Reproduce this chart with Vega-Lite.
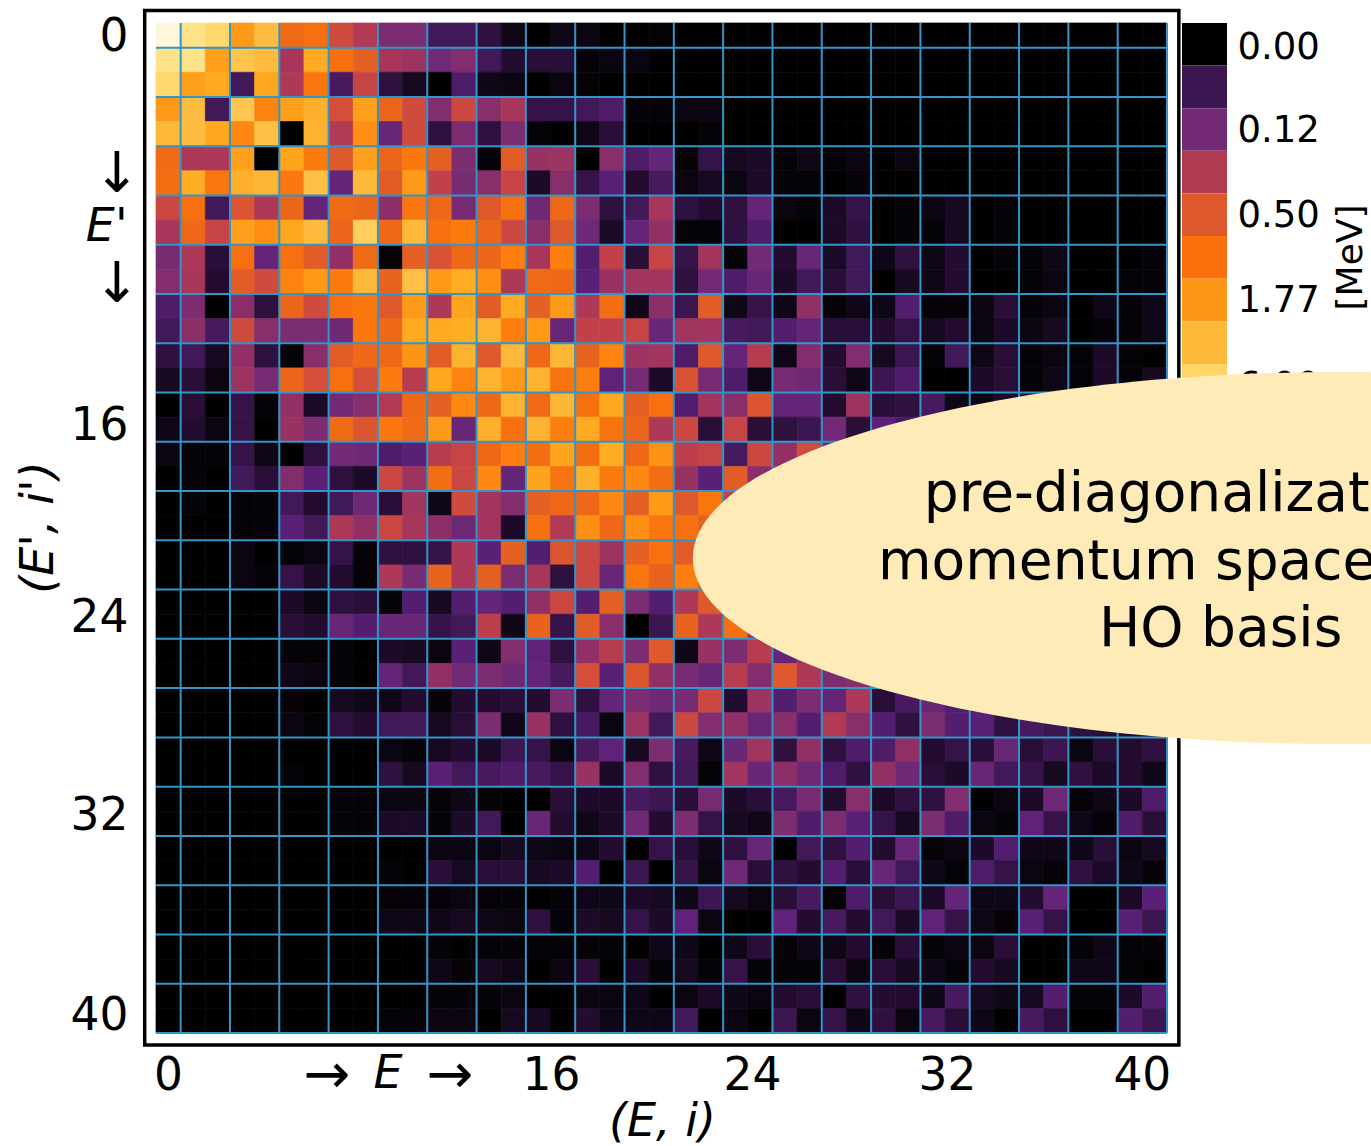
{"$schema":"https://vega.github.io/schema/vega-lite/v6.json","autosize":"none","width":1011,"height":1010,"padding":{"left":156,"top":23,"right":204,"bottom":113},"background":"white","config":{"view":{"stroke":null},"font":"DejaVu Sans"},"resolve":{"scale":{"x":"independent","y":"independent","color":"independent","stroke":"independent"},"axis":{"x":"independent","y":"independent"}},"layer":[{"data":{"values":[{"box":"frame"}]},"mark":{"type":"rect","fillOpacity":0,"stroke":"black","strokeWidth":3.5},"encoding":{"x":{"datum":-0.458,"type":"quantitative","scale":{"domain":[0,41],"nice":false,"zero":false},"axis":null},"x2":{"datum":41.48},"y":{"datum":-0.507,"type":"quantitative","scale":{"domain":[0,41],"reverse":true,"nice":false,"zero":false},"axis":null},"y2":{"datum":41.49}}},{"data":{"values":[
{"i":0,"j":0,"v":100},{"i":1,"j":0,"v":90},{"i":2,"j":0,"v":82},{"i":3,"j":0,"v":60},{"i":4,"j":0,"v":72},{"i":5,"j":0,"v":48},{"i":6,"j":0,"v":50},{"i":7,"j":0,"v":38},{"i":8,"j":0,"v":32},{"i":9,"j":0,"v":22},{"i":10,"j":0,"v":22},{"i":11,"j":0,"v":11},{"i":12,"j":0,"v":11},{"i":13,"j":0,"v":8},{"i":14,"j":0,"v":3},{"i":15,"j":0,"v":0},{"i":16,"j":0,"v":3},{"i":17,"j":0,"v":2},{"i":18,"j":0,"v":0},{"i":19,"j":0,"v":0},{"i":20,"j":0,"v":1},{"i":21,"j":0,"v":0},{"i":22,"j":0,"v":0},{"i":23,"j":0,"v":0},{"i":24,"j":0,"v":0},{"i":25,"j":0,"v":0},{"i":26,"j":0,"v":0},{"i":27,"j":0,"v":0},{"i":28,"j":0,"v":0},{"i":29,"j":0,"v":0},{"i":30,"j":0,"v":0},{"i":31,"j":0,"v":0},{"i":32,"j":0,"v":0},{"i":33,"j":0,"v":0},{"i":34,"j":0,"v":0},{"i":35,"j":0,"v":0},{"i":36,"j":0,"v":0},{"i":37,"j":0,"v":0},{"i":38,"j":0,"v":0},{"i":39,"j":0,"v":0},{"i":40,"j":0,"v":0},
{"i":0,"j":1,"v":90},{"i":1,"j":1,"v":90},{"i":2,"j":1,"v":62},{"i":3,"j":1,"v":75},{"i":4,"j":1,"v":71},{"i":5,"j":1,"v":30},{"i":6,"j":1,"v":65},{"i":7,"j":1,"v":50},{"i":8,"j":1,"v":44},{"i":9,"j":1,"v":30},{"i":10,"j":1,"v":28},{"i":11,"j":1,"v":20},{"i":12,"j":1,"v":23},{"i":13,"j":1,"v":11},{"i":14,"j":1,"v":6},{"i":15,"j":1,"v":7},{"i":16,"j":1,"v":7},{"i":17,"j":1,"v":1},{"i":18,"j":1,"v":2},{"i":19,"j":1,"v":2},{"i":20,"j":1,"v":0},{"i":21,"j":1,"v":0},{"i":22,"j":1,"v":0},{"i":23,"j":1,"v":0},{"i":24,"j":1,"v":0},{"i":25,"j":1,"v":0},{"i":26,"j":1,"v":0},{"i":27,"j":1,"v":0},{"i":28,"j":1,"v":0},{"i":29,"j":1,"v":0},{"i":30,"j":1,"v":0},{"i":31,"j":1,"v":0},{"i":32,"j":1,"v":0},{"i":33,"j":1,"v":0},{"i":34,"j":1,"v":0},{"i":35,"j":1,"v":0},{"i":36,"j":1,"v":0},{"i":37,"j":1,"v":0},{"i":38,"j":1,"v":0},{"i":39,"j":1,"v":0},{"i":40,"j":1,"v":0},
{"i":0,"j":2,"v":82},{"i":1,"j":2,"v":62},{"i":2,"j":2,"v":65},{"i":3,"j":2,"v":11},{"i":4,"j":2,"v":64},{"i":5,"j":2,"v":31},{"i":6,"j":2,"v":52},{"i":7,"j":2,"v":12},{"i":8,"j":2,"v":36},{"i":9,"j":2,"v":8},{"i":10,"j":2,"v":4},{"i":11,"j":2,"v":0},{"i":12,"j":2,"v":13},{"i":13,"j":2,"v":3},{"i":14,"j":2,"v":2},{"i":15,"j":2,"v":0},{"i":16,"j":2,"v":2},{"i":17,"j":2,"v":1},{"i":18,"j":2,"v":0},{"i":19,"j":2,"v":0},{"i":20,"j":2,"v":0},{"i":21,"j":2,"v":0},{"i":22,"j":2,"v":0},{"i":23,"j":2,"v":0},{"i":24,"j":2,"v":0},{"i":25,"j":2,"v":0},{"i":26,"j":2,"v":0},{"i":27,"j":2,"v":0},{"i":28,"j":2,"v":0},{"i":29,"j":2,"v":0},{"i":30,"j":2,"v":0},{"i":31,"j":2,"v":0},{"i":32,"j":2,"v":0},{"i":33,"j":2,"v":0},{"i":34,"j":2,"v":0},{"i":35,"j":2,"v":0},{"i":36,"j":2,"v":0},{"i":37,"j":2,"v":0},{"i":38,"j":2,"v":0},{"i":39,"j":2,"v":0},{"i":40,"j":2,"v":0},
{"i":0,"j":3,"v":60},{"i":1,"j":3,"v":72},{"i":2,"j":3,"v":11},{"i":3,"j":3,"v":76},{"i":4,"j":3,"v":56},{"i":5,"j":3,"v":62},{"i":6,"j":3,"v":67},{"i":7,"j":3,"v":39},{"i":8,"j":3,"v":62},{"i":9,"j":3,"v":46},{"i":10,"j":3,"v":38},{"i":11,"j":3,"v":23},{"i":12,"j":3,"v":37},{"i":13,"j":3,"v":24},{"i":14,"j":3,"v":30},{"i":15,"j":3,"v":9},{"i":16,"j":3,"v":9},{"i":17,"j":3,"v":11},{"i":18,"j":3,"v":13},{"i":19,"j":3,"v":1},{"i":20,"j":3,"v":1},{"i":21,"j":3,"v":2},{"i":22,"j":3,"v":2},{"i":23,"j":3,"v":0},{"i":24,"j":3,"v":0},{"i":25,"j":3,"v":0},{"i":26,"j":3,"v":0},{"i":27,"j":3,"v":0},{"i":28,"j":3,"v":0},{"i":29,"j":3,"v":0},{"i":30,"j":3,"v":0},{"i":31,"j":3,"v":0},{"i":32,"j":3,"v":0},{"i":33,"j":3,"v":0},{"i":34,"j":3,"v":0},{"i":35,"j":3,"v":0},{"i":36,"j":3,"v":0},{"i":37,"j":3,"v":0},{"i":38,"j":3,"v":0},{"i":39,"j":3,"v":0},{"i":40,"j":3,"v":0},
{"i":0,"j":4,"v":70},{"i":1,"j":4,"v":72},{"i":2,"j":4,"v":64},{"i":3,"j":4,"v":57},{"i":4,"j":4,"v":73},{"i":5,"j":4,"v":0},{"i":6,"j":4,"v":68},{"i":7,"j":4,"v":32},{"i":8,"j":4,"v":58},{"i":9,"j":4,"v":18},{"i":10,"j":4,"v":38},{"i":11,"j":4,"v":8},{"i":12,"j":4,"v":22},{"i":13,"j":4,"v":8},{"i":14,"j":4,"v":22},{"i":15,"j":4,"v":1},{"i":16,"j":4,"v":0},{"i":17,"j":4,"v":3},{"i":18,"j":4,"v":7},{"i":19,"j":4,"v":0},{"i":20,"j":4,"v":0},{"i":21,"j":4,"v":0},{"i":22,"j":4,"v":1},{"i":23,"j":4,"v":0},{"i":24,"j":4,"v":0},{"i":25,"j":4,"v":0},{"i":26,"j":4,"v":0},{"i":27,"j":4,"v":0},{"i":28,"j":4,"v":0},{"i":29,"j":4,"v":0},{"i":30,"j":4,"v":0},{"i":31,"j":4,"v":0},{"i":32,"j":4,"v":0},{"i":33,"j":4,"v":0},{"i":34,"j":4,"v":0},{"i":35,"j":4,"v":0},{"i":36,"j":4,"v":0},{"i":37,"j":4,"v":0},{"i":38,"j":4,"v":0},{"i":39,"j":4,"v":0},{"i":40,"j":4,"v":0},
{"i":0,"j":5,"v":48},{"i":1,"j":5,"v":31},{"i":2,"j":5,"v":31},{"i":3,"j":5,"v":62},{"i":4,"j":5,"v":0},{"i":5,"j":5,"v":63},{"i":6,"j":5,"v":54},{"i":7,"j":5,"v":42},{"i":8,"j":5,"v":62},{"i":9,"j":5,"v":46},{"i":10,"j":5,"v":53},{"i":11,"j":5,"v":44},{"i":12,"j":5,"v":22},{"i":13,"j":5,"v":1},{"i":14,"j":5,"v":43},{"i":15,"j":5,"v":27},{"i":16,"j":5,"v":28},{"i":17,"j":5,"v":0},{"i":18,"j":5,"v":24},{"i":19,"j":5,"v":13},{"i":20,"j":5,"v":17},{"i":21,"j":5,"v":1},{"i":22,"j":5,"v":9},{"i":23,"j":5,"v":4},{"i":24,"j":5,"v":5},{"i":25,"j":5,"v":1},{"i":26,"j":5,"v":3},{"i":27,"j":5,"v":1},{"i":28,"j":5,"v":2},{"i":29,"j":5,"v":0},{"i":30,"j":5,"v":2},{"i":31,"j":5,"v":0},{"i":32,"j":5,"v":0},{"i":33,"j":5,"v":0},{"i":34,"j":5,"v":0},{"i":35,"j":5,"v":0},{"i":36,"j":5,"v":0},{"i":37,"j":5,"v":0},{"i":38,"j":5,"v":0},{"i":39,"j":5,"v":0},{"i":40,"j":5,"v":0},
{"i":0,"j":6,"v":49},{"i":1,"j":6,"v":66},{"i":2,"j":6,"v":52},{"i":3,"j":6,"v":67},{"i":4,"j":6,"v":69},{"i":5,"j":6,"v":53},{"i":6,"j":6,"v":73},{"i":7,"j":6,"v":17},{"i":8,"j":6,"v":70},{"i":9,"j":6,"v":43},{"i":10,"j":6,"v":60},{"i":11,"j":6,"v":35},{"i":12,"j":6,"v":21},{"i":13,"j":6,"v":24},{"i":14,"j":6,"v":36},{"i":15,"j":6,"v":5},{"i":16,"j":6,"v":24},{"i":17,"j":6,"v":9},{"i":18,"j":6,"v":15},{"i":19,"j":6,"v":6},{"i":20,"j":6,"v":12},{"i":21,"j":6,"v":2},{"i":22,"j":6,"v":4},{"i":23,"j":6,"v":2},{"i":24,"j":6,"v":5},{"i":25,"j":6,"v":1},{"i":26,"j":6,"v":1},{"i":27,"j":6,"v":0},{"i":28,"j":6,"v":1},{"i":29,"j":6,"v":0},{"i":30,"j":6,"v":0},{"i":31,"j":6,"v":0},{"i":32,"j":6,"v":0},{"i":33,"j":6,"v":0},{"i":34,"j":6,"v":0},{"i":35,"j":6,"v":0},{"i":36,"j":6,"v":0},{"i":37,"j":6,"v":0},{"i":38,"j":6,"v":0},{"i":39,"j":6,"v":0},{"i":40,"j":6,"v":0},
{"i":0,"j":7,"v":37},{"i":1,"j":7,"v":50},{"i":2,"j":7,"v":11},{"i":3,"j":7,"v":41},{"i":4,"j":7,"v":31},{"i":5,"j":7,"v":46},{"i":6,"j":7,"v":17},{"i":7,"j":7,"v":48},{"i":8,"j":7,"v":46},{"i":9,"j":7,"v":25},{"i":10,"j":7,"v":52},{"i":11,"j":7,"v":47},{"i":12,"j":7,"v":21},{"i":13,"j":7,"v":42},{"i":14,"j":7,"v":50},{"i":15,"j":7,"v":19},{"i":16,"j":7,"v":47},{"i":17,"j":7,"v":22},{"i":18,"j":7,"v":8},{"i":19,"j":7,"v":11},{"i":20,"j":7,"v":30},{"i":21,"j":7,"v":8},{"i":22,"j":7,"v":6},{"i":23,"j":7,"v":8},{"i":24,"j":7,"v":17},{"i":25,"j":7,"v":2},{"i":26,"j":7,"v":1},{"i":27,"j":7,"v":5},{"i":28,"j":7,"v":9},{"i":29,"j":7,"v":0},{"i":30,"j":7,"v":1},{"i":31,"j":7,"v":2},{"i":32,"j":7,"v":4},{"i":33,"j":7,"v":0},{"i":34,"j":7,"v":1},{"i":35,"j":7,"v":0},{"i":36,"j":7,"v":0},{"i":37,"j":7,"v":0},{"i":38,"j":7,"v":0},{"i":39,"j":7,"v":0},{"i":40,"j":7,"v":0},
{"i":0,"j":8,"v":30},{"i":1,"j":8,"v":47},{"i":2,"j":8,"v":36},{"i":3,"j":8,"v":62},{"i":4,"j":8,"v":58},{"i":5,"j":8,"v":64},{"i":6,"j":8,"v":71},{"i":7,"j":8,"v":46},{"i":8,"j":8,"v":78},{"i":9,"j":8,"v":47},{"i":10,"j":8,"v":70},{"i":11,"j":8,"v":50},{"i":12,"j":8,"v":54},{"i":13,"j":8,"v":46},{"i":14,"j":8,"v":37},{"i":15,"j":8,"v":24},{"i":16,"j":8,"v":42},{"i":17,"j":8,"v":19},{"i":18,"j":8,"v":5},{"i":19,"j":8,"v":17},{"i":20,"j":8,"v":26},{"i":21,"j":8,"v":1},{"i":22,"j":8,"v":1},{"i":23,"j":8,"v":8},{"i":24,"j":8,"v":13},{"i":25,"j":8,"v":0},{"i":26,"j":8,"v":0},{"i":27,"j":8,"v":5},{"i":28,"j":8,"v":8},{"i":29,"j":8,"v":0},{"i":30,"j":8,"v":1},{"i":31,"j":8,"v":1},{"i":32,"j":8,"v":4},{"i":33,"j":8,"v":0},{"i":34,"j":8,"v":1},{"i":35,"j":8,"v":0},{"i":36,"j":8,"v":0},{"i":37,"j":8,"v":0},{"i":38,"j":8,"v":0},{"i":39,"j":8,"v":0},{"i":40,"j":8,"v":0},
{"i":0,"j":9,"v":21},{"i":1,"j":9,"v":31},{"i":2,"j":9,"v":7},{"i":3,"j":9,"v":50},{"i":4,"j":9,"v":17},{"i":5,"j":9,"v":50},{"i":6,"j":9,"v":43},{"i":7,"j":9,"v":26},{"i":8,"j":9,"v":48},{"i":9,"j":9,"v":1},{"i":10,"j":9,"v":44},{"i":11,"j":9,"v":40},{"i":12,"j":9,"v":47},{"i":13,"j":9,"v":46},{"i":14,"j":9,"v":55},{"i":15,"j":9,"v":30},{"i":16,"j":9,"v":55},{"i":17,"j":9,"v":14},{"i":18,"j":9,"v":35},{"i":19,"j":9,"v":7},{"i":20,"j":9,"v":36},{"i":21,"j":9,"v":9},{"i":22,"j":9,"v":29},{"i":23,"j":9,"v":1},{"i":24,"j":9,"v":20},{"i":25,"j":9,"v":6},{"i":26,"j":9,"v":18},{"i":27,"j":9,"v":5},{"i":28,"j":9,"v":11},{"i":29,"j":9,"v":3},{"i":30,"j":9,"v":8},{"i":31,"j":9,"v":3},{"i":32,"j":9,"v":6},{"i":33,"j":9,"v":0},{"i":34,"j":9,"v":1},{"i":35,"j":9,"v":1},{"i":36,"j":9,"v":3},{"i":37,"j":9,"v":0},{"i":38,"j":9,"v":0},{"i":39,"j":9,"v":0},{"i":40,"j":9,"v":1},
{"i":0,"j":10,"v":23},{"i":1,"j":10,"v":30},{"i":2,"j":10,"v":6},{"i":3,"j":10,"v":43},{"i":4,"j":10,"v":38},{"i":5,"j":10,"v":56},{"i":6,"j":10,"v":60},{"i":7,"j":10,"v":54},{"i":8,"j":10,"v":70},{"i":9,"j":10,"v":45},{"i":10,"j":10,"v":73},{"i":11,"j":10,"v":60},{"i":12,"j":10,"v":66},{"i":13,"j":10,"v":58},{"i":14,"j":10,"v":31},{"i":15,"j":10,"v":48},{"i":16,"j":10,"v":47},{"i":17,"j":10,"v":15},{"i":18,"j":10,"v":27},{"i":19,"j":10,"v":29},{"i":20,"j":10,"v":29},{"i":21,"j":10,"v":8},{"i":22,"j":10,"v":20},{"i":23,"j":10,"v":13},{"i":24,"j":10,"v":18},{"i":25,"j":10,"v":5},{"i":26,"j":10,"v":11},{"i":27,"j":10,"v":7},{"i":28,"j":10,"v":11},{"i":29,"j":10,"v":0},{"i":30,"j":10,"v":4},{"i":31,"j":10,"v":3},{"i":32,"j":10,"v":6},{"i":33,"j":10,"v":0},{"i":34,"j":10,"v":0},{"i":35,"j":10,"v":1},{"i":36,"j":10,"v":2},{"i":37,"j":10,"v":0},{"i":38,"j":10,"v":0},{"i":39,"j":10,"v":1},{"i":40,"j":10,"v":1},
{"i":0,"j":11,"v":13},{"i":1,"j":11,"v":22},{"i":2,"j":11,"v":0},{"i":3,"j":11,"v":25},{"i":4,"j":11,"v":8},{"i":5,"j":11,"v":46},{"i":6,"j":11,"v":38},{"i":7,"j":11,"v":50},{"i":8,"j":11,"v":53},{"i":9,"j":11,"v":42},{"i":10,"j":11,"v":60},{"i":11,"j":11,"v":31},{"i":12,"j":11,"v":63},{"i":13,"j":11,"v":43},{"i":14,"j":11,"v":65},{"i":15,"j":11,"v":44},{"i":16,"j":11,"v":60},{"i":17,"j":11,"v":31},{"i":18,"j":11,"v":49},{"i":19,"j":11,"v":3},{"i":20,"j":11,"v":25},{"i":21,"j":11,"v":10},{"i":22,"j":11,"v":43},{"i":23,"j":11,"v":3},{"i":24,"j":11,"v":9},{"i":25,"j":11,"v":3},{"i":26,"j":11,"v":26},{"i":27,"j":11,"v":1},{"i":28,"j":11,"v":3},{"i":29,"j":11,"v":3},{"i":30,"j":11,"v":14},{"i":31,"j":11,"v":1},{"i":32,"j":11,"v":1},{"i":33,"j":11,"v":2},{"i":34,"j":11,"v":7},{"i":35,"j":11,"v":1},{"i":36,"j":11,"v":2},{"i":37,"j":11,"v":0},{"i":38,"j":11,"v":3},{"i":39,"j":11,"v":1},{"i":40,"j":11,"v":3},
{"i":0,"j":12,"v":11},{"i":1,"j":12,"v":25},{"i":2,"j":12,"v":12},{"i":3,"j":12,"v":38},{"i":4,"j":12,"v":24},{"i":5,"j":12,"v":22},{"i":6,"j":12,"v":22},{"i":7,"j":12,"v":19},{"i":8,"j":12,"v":52},{"i":9,"j":12,"v":47},{"i":10,"j":12,"v":65},{"i":11,"j":12,"v":65},{"i":12,"j":12,"v":66},{"i":13,"j":12,"v":68},{"i":14,"j":12,"v":55},{"i":15,"j":12,"v":60},{"i":16,"j":12,"v":18},{"i":17,"j":12,"v":35},{"i":18,"j":12,"v":35},{"i":19,"j":12,"v":36},{"i":20,"j":12,"v":18},{"i":21,"j":12,"v":29},{"i":22,"j":12,"v":29},{"i":23,"j":12,"v":12},{"i":24,"j":12,"v":11},{"i":25,"j":12,"v":14},{"i":26,"j":12,"v":17},{"i":27,"j":12,"v":7},{"i":28,"j":12,"v":7},{"i":29,"j":12,"v":6},{"i":30,"j":12,"v":9},{"i":31,"j":12,"v":4},{"i":32,"j":12,"v":6},{"i":33,"j":12,"v":2},{"i":34,"j":12,"v":5},{"i":35,"j":12,"v":2},{"i":36,"j":12,"v":4},{"i":37,"j":12,"v":0},{"i":38,"j":12,"v":1},{"i":39,"j":12,"v":1},{"i":40,"j":12,"v":3},
{"i":0,"j":13,"v":8},{"i":1,"j":13,"v":11},{"i":2,"j":13,"v":4},{"i":3,"j":13,"v":26},{"i":4,"j":13,"v":8},{"i":5,"j":13,"v":1},{"i":6,"j":13,"v":24},{"i":7,"j":13,"v":43},{"i":8,"j":13,"v":47},{"i":9,"j":13,"v":47},{"i":10,"j":13,"v":59},{"i":11,"j":13,"v":43},{"i":12,"j":13,"v":68},{"i":13,"j":13,"v":42},{"i":14,"j":13,"v":70},{"i":15,"j":13,"v":47},{"i":16,"j":13,"v":69},{"i":17,"j":13,"v":45},{"i":18,"j":13,"v":56},{"i":19,"j":13,"v":28},{"i":20,"j":13,"v":29},{"i":21,"j":13,"v":13},{"i":22,"j":13,"v":42},{"i":23,"j":13,"v":17},{"i":24,"j":13,"v":33},{"i":25,"j":13,"v":3},{"i":26,"j":13,"v":23},{"i":27,"j":13,"v":6},{"i":28,"j":13,"v":23},{"i":29,"j":13,"v":4},{"i":30,"j":13,"v":10},{"i":31,"j":13,"v":1},{"i":32,"j":13,"v":11},{"i":33,"j":13,"v":3},{"i":34,"j":13,"v":7},{"i":35,"j":13,"v":1},{"i":36,"j":13,"v":2},{"i":37,"j":13,"v":1},{"i":38,"j":13,"v":5},{"i":39,"j":13,"v":1},{"i":40,"j":13,"v":0},
{"i":0,"j":14,"v":4},{"i":1,"j":14,"v":7},{"i":2,"j":14,"v":2},{"i":3,"j":14,"v":28},{"i":4,"j":14,"v":21},{"i":5,"j":14,"v":46},{"i":6,"j":14,"v":39},{"i":7,"j":14,"v":50},{"i":8,"j":14,"v":39},{"i":9,"j":14,"v":54},{"i":10,"j":14,"v":33},{"i":11,"j":14,"v":64},{"i":12,"j":14,"v":56},{"i":13,"j":14,"v":68},{"i":14,"j":14,"v":60},{"i":15,"j":14,"v":68},{"i":16,"j":14,"v":51},{"i":17,"j":14,"v":55},{"i":18,"j":14,"v":16},{"i":19,"j":14,"v":21},{"i":20,"j":14,"v":5},{"i":21,"j":14,"v":40},{"i":22,"j":14,"v":21},{"i":23,"j":14,"v":13},{"i":24,"j":14,"v":3},{"i":25,"j":14,"v":21},{"i":26,"j":14,"v":19},{"i":27,"j":14,"v":7},{"i":28,"j":14,"v":3},{"i":29,"j":14,"v":10},{"i":30,"j":14,"v":13},{"i":31,"j":14,"v":0},{"i":32,"j":14,"v":0},{"i":33,"j":14,"v":5},{"i":34,"j":14,"v":7},{"i":35,"j":14,"v":1},{"i":36,"j":14,"v":3},{"i":37,"j":14,"v":1},{"i":38,"j":14,"v":5},{"i":39,"j":14,"v":1},{"i":40,"j":14,"v":4},
{"i":0,"j":15,"v":0},{"i":1,"j":15,"v":7},{"i":2,"j":15,"v":0},{"i":3,"j":15,"v":9},{"i":4,"j":15,"v":1},{"i":5,"j":15,"v":26},{"i":6,"j":15,"v":5},{"i":7,"j":15,"v":20},{"i":8,"j":15,"v":24},{"i":9,"j":15,"v":32},{"i":10,"j":15,"v":47},{"i":11,"j":15,"v":44},{"i":12,"j":15,"v":57},{"i":13,"j":15,"v":47},{"i":14,"j":15,"v":68},{"i":15,"j":15,"v":48},{"i":16,"j":15,"v":69},{"i":17,"j":15,"v":50},{"i":18,"j":15,"v":64},{"i":19,"j":15,"v":44},{"i":20,"j":15,"v":50},{"i":21,"j":15,"v":14},{"i":22,"j":15,"v":29},{"i":23,"j":15,"v":24},{"i":24,"j":15,"v":41},{"i":25,"j":15,"v":17},{"i":26,"j":15,"v":17},{"i":27,"j":15,"v":6},{"i":28,"j":15,"v":28},{"i":29,"j":15,"v":7},{"i":30,"j":15,"v":8},{"i":31,"j":15,"v":12},{"i":32,"j":15,"v":3},{"i":33,"j":15,"v":2},{"i":34,"j":15,"v":5},{"i":35,"j":15,"v":8},{"i":36,"j":15,"v":10},{"i":37,"j":15,"v":12},{"i":38,"j":15,"v":6},{"i":39,"j":15,"v":9},{"i":40,"j":15,"v":7},
{"i":0,"j":16,"v":3},{"i":1,"j":16,"v":6},{"i":2,"j":16,"v":2},{"i":3,"j":16,"v":9},{"i":4,"j":16,"v":0},{"i":5,"j":16,"v":27},{"i":6,"j":16,"v":22},{"i":7,"j":16,"v":48},{"i":8,"j":16,"v":41},{"i":9,"j":16,"v":53},{"i":10,"j":16,"v":48},{"i":11,"j":16,"v":60},{"i":12,"j":16,"v":18},{"i":13,"j":16,"v":67},{"i":14,"j":16,"v":50},{"i":15,"j":16,"v":68},{"i":16,"j":16,"v":55},{"i":17,"j":16,"v":65},{"i":18,"j":16,"v":51},{"i":19,"j":16,"v":46},{"i":20,"j":16,"v":31},{"i":21,"j":16,"v":37},{"i":22,"j":16,"v":7},{"i":23,"j":16,"v":36},{"i":24,"j":16,"v":7},{"i":25,"j":16,"v":8},{"i":26,"j":16,"v":10},{"i":27,"j":16,"v":20},{"i":28,"j":16,"v":7},{"i":29,"j":16,"v":15},{"i":30,"j":16,"v":12},{"i":31,"j":16,"v":18},{"i":32,"j":16,"v":9},{"i":33,"j":16,"v":8},{"i":34,"j":16,"v":11},{"i":35,"j":16,"v":14},{"i":36,"j":16,"v":9},{"i":37,"j":16,"v":7},{"i":38,"j":16,"v":6},{"i":39,"j":16,"v":5},{"i":40,"j":16,"v":8},
{"i":0,"j":17,"v":2},{"i":1,"j":17,"v":1},{"i":2,"j":17,"v":1},{"i":3,"j":17,"v":9},{"i":4,"j":17,"v":3},{"i":5,"j":17,"v":0},{"i":6,"j":17,"v":8},{"i":7,"j":17,"v":20},{"i":8,"j":17,"v":19},{"i":9,"j":17,"v":13},{"i":10,"j":17,"v":15},{"i":11,"j":17,"v":33},{"i":12,"j":17,"v":36},{"i":13,"j":17,"v":47},{"i":14,"j":17,"v":55},{"i":15,"j":17,"v":49},{"i":16,"j":17,"v":63},{"i":17,"j":17,"v":49},{"i":18,"j":17,"v":66},{"i":19,"j":17,"v":47},{"i":20,"j":17,"v":59},{"i":21,"j":17,"v":34},{"i":22,"j":17,"v":36},{"i":23,"j":17,"v":12},{"i":24,"j":17,"v":37},{"i":25,"j":17,"v":26},{"i":26,"j":17,"v":38},{"i":27,"j":17,"v":20},{"i":28,"j":17,"v":24},{"i":29,"j":17,"v":16},{"i":30,"j":17,"v":18},{"i":31,"j":17,"v":12},{"i":32,"j":17,"v":20},{"i":33,"j":17,"v":14},{"i":34,"j":17,"v":10},{"i":35,"j":17,"v":15},{"i":36,"j":17,"v":9},{"i":37,"j":17,"v":11},{"i":38,"j":17,"v":8},{"i":39,"j":17,"v":7},{"i":40,"j":17,"v":6},
{"i":0,"j":18,"v":0},{"i":1,"j":18,"v":1},{"i":2,"j":18,"v":0},{"i":3,"j":18,"v":11},{"i":4,"j":18,"v":7},{"i":5,"j":18,"v":23},{"i":6,"j":18,"v":15},{"i":7,"j":18,"v":8},{"i":8,"j":18,"v":5},{"i":9,"j":18,"v":37},{"i":10,"j":18,"v":28},{"i":11,"j":18,"v":49},{"i":12,"j":18,"v":37},{"i":13,"j":18,"v":57},{"i":14,"j":18,"v":17},{"i":15,"j":18,"v":63},{"i":16,"j":18,"v":51},{"i":17,"j":18,"v":67},{"i":18,"j":18,"v":54},{"i":19,"j":18,"v":57},{"i":20,"j":18,"v":49},{"i":21,"j":18,"v":27},{"i":22,"j":18,"v":15},{"i":23,"j":18,"v":43},{"i":24,"j":18,"v":25},{"i":25,"j":18,"v":30},{"i":26,"j":18,"v":22},{"i":27,"j":18,"v":28},{"i":28,"j":18,"v":18},{"i":29,"j":18,"v":22},{"i":30,"j":18,"v":15},{"i":31,"j":18,"v":16},{"i":32,"j":18,"v":20},{"i":33,"j":18,"v":12},{"i":34,"j":18,"v":16},{"i":35,"j":18,"v":10},{"i":36,"j":18,"v":14},{"i":37,"j":18,"v":8},{"i":38,"j":18,"v":9},{"i":39,"j":18,"v":6},{"i":40,"j":18,"v":8},
{"i":0,"j":19,"v":0},{"i":1,"j":19,"v":1},{"i":2,"j":19,"v":0},{"i":3,"j":19,"v":1},{"i":4,"j":19,"v":1},{"i":5,"j":19,"v":11},{"i":6,"j":19,"v":6},{"i":7,"j":19,"v":11},{"i":8,"j":19,"v":19},{"i":9,"j":19,"v":7},{"i":10,"j":19,"v":29},{"i":11,"j":19,"v":3},{"i":12,"j":19,"v":38},{"i":13,"j":19,"v":29},{"i":14,"j":19,"v":23},{"i":15,"j":19,"v":44},{"i":16,"j":19,"v":47},{"i":17,"j":19,"v":47},{"i":18,"j":19,"v":57},{"i":19,"j":19,"v":44},{"i":20,"j":19,"v":60},{"i":21,"j":19,"v":42},{"i":22,"j":19,"v":52},{"i":23,"j":19,"v":35},{"i":24,"j":19,"v":40},{"i":25,"j":19,"v":28},{"i":26,"j":19,"v":30},{"i":27,"j":19,"v":22},{"i":28,"j":19,"v":26},{"i":29,"j":19,"v":18},{"i":30,"j":19,"v":20},{"i":31,"j":19,"v":14},{"i":32,"j":19,"v":18},{"i":33,"j":19,"v":12},{"i":34,"j":19,"v":16},{"i":35,"j":19,"v":10},{"i":36,"j":19,"v":12},{"i":37,"j":19,"v":8},{"i":38,"j":19,"v":9},{"i":39,"j":19,"v":6},{"i":40,"j":19,"v":8},
{"i":0,"j":20,"v":0},{"i":1,"j":20,"v":0},{"i":2,"j":20,"v":0},{"i":3,"j":20,"v":1},{"i":4,"j":20,"v":1},{"i":5,"j":20,"v":15},{"i":6,"j":20,"v":11},{"i":7,"j":20,"v":31},{"i":8,"j":20,"v":26},{"i":9,"j":20,"v":37},{"i":10,"j":20,"v":30},{"i":11,"j":20,"v":25},{"i":12,"j":20,"v":19},{"i":13,"j":20,"v":29},{"i":14,"j":20,"v":5},{"i":15,"j":20,"v":50},{"i":16,"j":20,"v":32},{"i":17,"j":20,"v":58},{"i":18,"j":20,"v":47},{"i":19,"j":20,"v":58},{"i":20,"j":20,"v":52},{"i":21,"j":20,"v":50},{"i":22,"j":20,"v":44},{"i":23,"j":20,"v":38},{"i":24,"j":20,"v":36},{"i":25,"j":20,"v":30},{"i":26,"j":20,"v":28},{"i":27,"j":20,"v":24},{"i":28,"j":20,"v":22},{"i":29,"j":20,"v":18},{"i":30,"j":20,"v":20},{"i":31,"j":20,"v":15},{"i":32,"j":20,"v":16},{"i":33,"j":20,"v":12},{"i":34,"j":20,"v":14},{"i":35,"j":20,"v":10},{"i":36,"j":20,"v":12},{"i":37,"j":20,"v":8},{"i":38,"j":20,"v":9},{"i":39,"j":20,"v":7},{"i":40,"j":20,"v":8},
{"i":0,"j":21,"v":0},{"i":1,"j":21,"v":0},{"i":2,"j":21,"v":0},{"i":3,"j":21,"v":2},{"i":4,"j":21,"v":0},{"i":5,"j":21,"v":1},{"i":6,"j":21,"v":2},{"i":7,"j":21,"v":9},{"i":8,"j":21,"v":1},{"i":9,"j":21,"v":8},{"i":10,"j":21,"v":8},{"i":11,"j":21,"v":9},{"i":12,"j":21,"v":31},{"i":13,"j":21,"v":15},{"i":14,"j":21,"v":44},{"i":15,"j":21,"v":14},{"i":16,"j":21,"v":41},{"i":17,"j":21,"v":37},{"i":18,"j":21,"v":28},{"i":19,"j":21,"v":44},{"i":20,"j":21,"v":50},{"i":21,"j":21,"v":43},{"i":22,"j":21,"v":42},{"i":23,"j":21,"v":38},{"i":24,"j":21,"v":34},{"i":25,"j":21,"v":30},{"i":26,"j":21,"v":26},{"i":27,"j":21,"v":24},{"i":28,"j":21,"v":20},{"i":29,"j":21,"v":20},{"i":30,"j":21,"v":16},{"i":31,"j":21,"v":16},{"i":32,"j":21,"v":13},{"i":33,"j":21,"v":14},{"i":34,"j":21,"v":11},{"i":35,"j":21,"v":12},{"i":36,"j":21,"v":9},{"i":37,"j":21,"v":10},{"i":38,"j":21,"v":7},{"i":39,"j":21,"v":8},{"i":40,"j":21,"v":8},
{"i":0,"j":22,"v":0},{"i":1,"j":22,"v":0},{"i":2,"j":22,"v":0},{"i":3,"j":22,"v":2},{"i":4,"j":22,"v":1},{"i":5,"j":22,"v":9},{"i":6,"j":22,"v":5},{"i":7,"j":22,"v":6},{"i":8,"j":22,"v":1},{"i":9,"j":22,"v":31},{"i":10,"j":22,"v":21},{"i":11,"j":22,"v":45},{"i":12,"j":22,"v":31},{"i":13,"j":22,"v":44},{"i":14,"j":22,"v":22},{"i":15,"j":22,"v":30},{"i":16,"j":22,"v":8},{"i":17,"j":22,"v":37},{"i":18,"j":22,"v":18},{"i":19,"j":22,"v":52},{"i":20,"j":22,"v":45},{"i":21,"j":22,"v":55},{"i":22,"j":22,"v":44},{"i":23,"j":22,"v":36},{"i":24,"j":22,"v":32},{"i":25,"j":22,"v":28},{"i":26,"j":22,"v":26},{"i":27,"j":22,"v":22},{"i":28,"j":22,"v":20},{"i":29,"j":22,"v":18},{"i":30,"j":22,"v":16},{"i":31,"j":22,"v":15},{"i":32,"j":22,"v":13},{"i":33,"j":22,"v":13},{"i":34,"j":22,"v":11},{"i":35,"j":22,"v":11},{"i":36,"j":22,"v":9},{"i":37,"j":22,"v":9},{"i":38,"j":22,"v":7},{"i":39,"j":22,"v":8},{"i":40,"j":22,"v":7},
{"i":0,"j":23,"v":0},{"i":1,"j":23,"v":0},{"i":2,"j":23,"v":0},{"i":3,"j":23,"v":0},{"i":4,"j":23,"v":0},{"i":5,"j":23,"v":5},{"i":6,"j":23,"v":2},{"i":7,"j":23,"v":8},{"i":8,"j":23,"v":7},{"i":9,"j":23,"v":1},{"i":10,"j":23,"v":14},{"i":11,"j":23,"v":4},{"i":12,"j":23,"v":14},{"i":13,"j":23,"v":17},{"i":14,"j":23,"v":14},{"i":15,"j":23,"v":26},{"i":16,"j":23,"v":37},{"i":17,"j":23,"v":14},{"i":18,"j":23,"v":44},{"i":19,"j":23,"v":22},{"i":20,"j":23,"v":14},{"i":21,"j":23,"v":31},{"i":22,"j":23,"v":42},{"i":23,"j":23,"v":30},{"i":24,"j":23,"v":26},{"i":25,"j":23,"v":24},{"i":26,"j":23,"v":20},{"i":27,"j":23,"v":20},{"i":28,"j":23,"v":16},{"i":29,"j":23,"v":16},{"i":30,"j":23,"v":14},{"i":31,"j":23,"v":14},{"i":32,"j":23,"v":11},{"i":33,"j":23,"v":12},{"i":34,"j":23,"v":9},{"i":35,"j":23,"v":10},{"i":36,"j":23,"v":8},{"i":37,"j":23,"v":8},{"i":38,"j":23,"v":7},{"i":39,"j":23,"v":6},{"i":40,"j":23,"v":6},
{"i":0,"j":24,"v":0},{"i":1,"j":24,"v":0},{"i":2,"j":24,"v":0},{"i":3,"j":24,"v":0},{"i":4,"j":24,"v":0},{"i":5,"j":24,"v":7},{"i":6,"j":24,"v":6},{"i":7,"j":24,"v":18},{"i":8,"j":24,"v":14},{"i":9,"j":24,"v":18},{"i":10,"j":24,"v":18},{"i":11,"j":24,"v":9},{"i":12,"j":24,"v":11},{"i":13,"j":24,"v":34},{"i":14,"j":24,"v":3},{"i":15,"j":24,"v":45},{"i":16,"j":24,"v":9},{"i":17,"j":24,"v":43},{"i":18,"j":24,"v":24},{"i":19,"j":24,"v":0},{"i":20,"j":24,"v":10},{"i":21,"j":24,"v":45},{"i":22,"j":24,"v":31},{"i":23,"j":24,"v":50},{"i":24,"j":24,"v":30},{"i":25,"j":24,"v":26},{"i":26,"j":24,"v":24},{"i":27,"j":24,"v":22},{"i":28,"j":24,"v":18},{"i":29,"j":24,"v":16},{"i":30,"j":24,"v":14},{"i":31,"j":24,"v":13},{"i":32,"j":24,"v":12},{"i":33,"j":24,"v":11},{"i":34,"j":24,"v":10},{"i":35,"j":24,"v":9},{"i":36,"j":24,"v":9},{"i":37,"j":24,"v":8},{"i":38,"j":24,"v":7},{"i":39,"j":24,"v":6},{"i":40,"j":24,"v":6},
{"i":0,"j":25,"v":0},{"i":1,"j":25,"v":0},{"i":2,"j":25,"v":0},{"i":3,"j":25,"v":0},{"i":4,"j":25,"v":0},{"i":5,"j":25,"v":1},{"i":6,"j":25,"v":1},{"i":7,"j":25,"v":1},{"i":8,"j":25,"v":0},{"i":9,"j":25,"v":5},{"i":10,"j":25,"v":4},{"i":11,"j":25,"v":2},{"i":12,"j":25,"v":15},{"i":13,"j":25,"v":3},{"i":14,"j":25,"v":23},{"i":15,"j":25,"v":16},{"i":16,"j":25,"v":8},{"i":17,"j":25,"v":26},{"i":18,"j":25,"v":33},{"i":19,"j":25,"v":22},{"i":20,"j":25,"v":42},{"i":21,"j":25,"v":3},{"i":22,"j":25,"v":27},{"i":23,"j":25,"v":22},{"i":24,"j":25,"v":33},{"i":25,"j":25,"v":17},{"i":26,"j":25,"v":28},{"i":27,"j":25,"v":24},{"i":28,"j":25,"v":20},{"i":29,"j":25,"v":18},{"i":30,"j":25,"v":16},{"i":31,"j":25,"v":14},{"i":32,"j":25,"v":13},{"i":33,"j":25,"v":12},{"i":34,"j":25,"v":11},{"i":35,"j":25,"v":10},{"i":36,"j":25,"v":9},{"i":37,"j":25,"v":8},{"i":38,"j":25,"v":8},{"i":39,"j":25,"v":7},{"i":40,"j":25,"v":6},
{"i":0,"j":26,"v":0},{"i":1,"j":26,"v":0},{"i":2,"j":26,"v":0},{"i":3,"j":26,"v":0},{"i":4,"j":26,"v":0},{"i":5,"j":26,"v":3},{"i":6,"j":26,"v":2},{"i":7,"j":26,"v":1},{"i":8,"j":26,"v":0},{"i":9,"j":26,"v":17},{"i":10,"j":26,"v":11},{"i":11,"j":26,"v":26},{"i":12,"j":26,"v":20},{"i":13,"j":26,"v":22},{"i":14,"j":26,"v":19},{"i":15,"j":26,"v":17},{"i":16,"j":26,"v":12},{"i":17,"j":26,"v":39},{"i":18,"j":26,"v":15},{"i":19,"j":26,"v":41},{"i":20,"j":26,"v":26},{"i":21,"j":26,"v":21},{"i":22,"j":26,"v":18},{"i":23,"j":26,"v":33},{"i":24,"j":26,"v":23},{"i":25,"j":26,"v":42},{"i":26,"j":26,"v":31},{"i":27,"j":26,"v":22},{"i":28,"j":26,"v":24},{"i":29,"j":26,"v":20},{"i":30,"j":26,"v":17},{"i":31,"j":26,"v":15},{"i":32,"j":26,"v":13},{"i":33,"j":26,"v":12},{"i":34,"j":26,"v":11},{"i":35,"j":26,"v":10},{"i":36,"j":26,"v":9},{"i":37,"j":26,"v":8},{"i":38,"j":26,"v":8},{"i":39,"j":26,"v":7},{"i":40,"j":26,"v":6},
{"i":0,"j":27,"v":0},{"i":1,"j":27,"v":0},{"i":2,"j":27,"v":0},{"i":3,"j":27,"v":0},{"i":4,"j":27,"v":0},{"i":5,"j":27,"v":1},{"i":6,"j":27,"v":0},{"i":7,"j":27,"v":4},{"i":8,"j":27,"v":3},{"i":9,"j":27,"v":3},{"i":10,"j":27,"v":6},{"i":11,"j":27,"v":1},{"i":12,"j":27,"v":6},{"i":13,"j":27,"v":6},{"i":14,"j":27,"v":7},{"i":15,"j":27,"v":6},{"i":16,"j":27,"v":22},{"i":17,"j":27,"v":8},{"i":18,"j":27,"v":17},{"i":19,"j":27,"v":22},{"i":20,"j":27,"v":19},{"i":21,"j":27,"v":21},{"i":22,"j":27,"v":37},{"i":23,"j":27,"v":6},{"i":24,"j":27,"v":28},{"i":25,"j":27,"v":14},{"i":26,"j":27,"v":22},{"i":27,"j":27,"v":17},{"i":28,"j":27,"v":31},{"i":29,"j":27,"v":7},{"i":30,"j":27,"v":12},{"i":31,"j":27,"v":18},{"i":32,"j":27,"v":14},{"i":33,"j":27,"v":10},{"i":34,"j":27,"v":12},{"i":35,"j":27,"v":9},{"i":36,"j":27,"v":10},{"i":37,"j":27,"v":8},{"i":38,"j":27,"v":8},{"i":39,"j":27,"v":7},{"i":40,"j":27,"v":6},
{"i":0,"j":28,"v":0},{"i":1,"j":28,"v":0},{"i":2,"j":28,"v":0},{"i":3,"j":28,"v":0},{"i":4,"j":28,"v":0},{"i":5,"j":28,"v":2},{"i":6,"j":28,"v":1},{"i":7,"j":28,"v":8},{"i":8,"j":28,"v":6},{"i":9,"j":28,"v":11},{"i":10,"j":28,"v":11},{"i":11,"j":28,"v":4},{"i":12,"j":28,"v":7},{"i":13,"j":28,"v":22},{"i":14,"j":28,"v":3},{"i":15,"j":28,"v":27},{"i":16,"j":28,"v":8},{"i":17,"j":28,"v":12},{"i":18,"j":28,"v":2},{"i":19,"j":28,"v":28},{"i":20,"j":28,"v":11},{"i":21,"j":28,"v":37},{"i":22,"j":28,"v":23},{"i":23,"j":28,"v":26},{"i":24,"j":28,"v":18},{"i":25,"j":28,"v":24},{"i":26,"j":28,"v":14},{"i":27,"j":28,"v":32},{"i":28,"j":28,"v":24},{"i":29,"j":28,"v":14},{"i":30,"j":28,"v":8},{"i":31,"j":28,"v":22},{"i":32,"j":28,"v":14},{"i":33,"j":28,"v":15},{"i":34,"j":28,"v":8},{"i":35,"j":28,"v":12},{"i":36,"j":28,"v":10},{"i":37,"j":28,"v":8},{"i":38,"j":28,"v":7},{"i":39,"j":28,"v":6},{"i":40,"j":28,"v":5},
{"i":0,"j":29,"v":0},{"i":1,"j":29,"v":0},{"i":2,"j":29,"v":0},{"i":3,"j":29,"v":0},{"i":4,"j":29,"v":0},{"i":5,"j":29,"v":0},{"i":6,"j":29,"v":0},{"i":7,"j":29,"v":0},{"i":8,"j":29,"v":0},{"i":9,"j":29,"v":2},{"i":10,"j":29,"v":1},{"i":11,"j":29,"v":4},{"i":12,"j":29,"v":6},{"i":13,"j":29,"v":5},{"i":14,"j":29,"v":10},{"i":15,"j":29,"v":9},{"i":16,"j":29,"v":2},{"i":17,"j":29,"v":12},{"i":18,"j":29,"v":16},{"i":19,"j":29,"v":4},{"i":20,"j":29,"v":22},{"i":21,"j":29,"v":12},{"i":22,"j":29,"v":3},{"i":23,"j":29,"v":18},{"i":24,"j":29,"v":29},{"i":25,"j":29,"v":8},{"i":26,"j":29,"v":26},{"i":27,"j":29,"v":8},{"i":28,"j":29,"v":13},{"i":29,"j":29,"v":13},{"i":30,"j":29,"v":26},{"i":31,"j":29,"v":6},{"i":32,"j":29,"v":9},{"i":33,"j":29,"v":7},{"i":34,"j":29,"v":18},{"i":35,"j":29,"v":7},{"i":36,"j":29,"v":10},{"i":37,"j":29,"v":2},{"i":38,"j":29,"v":7},{"i":39,"j":29,"v":6},{"i":40,"j":29,"v":8},
{"i":0,"j":30,"v":0},{"i":1,"j":30,"v":0},{"i":2,"j":30,"v":0},{"i":3,"j":30,"v":0},{"i":4,"j":30,"v":0},{"i":5,"j":30,"v":1},{"i":6,"j":30,"v":0},{"i":7,"j":30,"v":0},{"i":8,"j":30,"v":0},{"i":9,"j":30,"v":8},{"i":10,"j":30,"v":4},{"i":11,"j":30,"v":15},{"i":12,"j":30,"v":11},{"i":13,"j":30,"v":12},{"i":14,"j":30,"v":13},{"i":15,"j":30,"v":12},{"i":16,"j":30,"v":9},{"i":17,"j":30,"v":27},{"i":18,"j":30,"v":5},{"i":19,"j":30,"v":23},{"i":20,"j":30,"v":8},{"i":21,"j":30,"v":11},{"i":22,"j":30,"v":1},{"i":23,"j":30,"v":29},{"i":24,"j":30,"v":18},{"i":25,"j":30,"v":25},{"i":26,"j":30,"v":19},{"i":27,"j":30,"v":13},{"i":28,"j":30,"v":8},{"i":29,"j":30,"v":26},{"i":30,"j":30,"v":19},{"i":31,"j":30,"v":7},{"i":32,"j":30,"v":5},{"i":33,"j":30,"v":18},{"i":34,"j":30,"v":11},{"i":35,"j":30,"v":9},{"i":36,"j":30,"v":4},{"i":37,"j":30,"v":8},{"i":38,"j":30,"v":5},{"i":39,"j":30,"v":6},{"i":40,"j":30,"v":3},
{"i":0,"j":31,"v":0},{"i":1,"j":31,"v":0},{"i":2,"j":31,"v":0},{"i":3,"j":31,"v":0},{"i":4,"j":31,"v":0},{"i":5,"j":31,"v":0},{"i":6,"j":31,"v":0},{"i":7,"j":31,"v":1},{"i":8,"j":31,"v":1},{"i":9,"j":31,"v":2},{"i":10,"j":31,"v":2},{"i":11,"j":31,"v":1},{"i":12,"j":31,"v":3},{"i":13,"j":31,"v":1},{"i":14,"j":31,"v":0},{"i":15,"j":31,"v":0},{"i":16,"j":31,"v":7},{"i":17,"j":31,"v":5},{"i":18,"j":31,"v":5},{"i":19,"j":31,"v":12},{"i":20,"j":31,"v":10},{"i":21,"j":31,"v":7},{"i":22,"j":31,"v":21},{"i":23,"j":31,"v":5},{"i":24,"j":31,"v":7},{"i":25,"j":31,"v":12},{"i":26,"j":31,"v":21},{"i":27,"j":31,"v":6},{"i":28,"j":31,"v":24},{"i":29,"j":31,"v":5},{"i":30,"j":31,"v":8},{"i":31,"j":31,"v":8},{"i":32,"j":31,"v":23},{"i":33,"j":31,"v":0},{"i":34,"j":31,"v":2},{"i":35,"j":31,"v":5},{"i":36,"j":31,"v":19},{"i":37,"j":31,"v":1},{"i":38,"j":31,"v":3},{"i":39,"j":31,"v":5},{"i":40,"j":31,"v":13},
{"i":0,"j":32,"v":0},{"i":1,"j":32,"v":0},{"i":2,"j":32,"v":0},{"i":3,"j":32,"v":0},{"i":4,"j":32,"v":0},{"i":5,"j":32,"v":0},{"i":6,"j":32,"v":0},{"i":7,"j":32,"v":1},{"i":8,"j":32,"v":1},{"i":9,"j":32,"v":5},{"i":10,"j":32,"v":5},{"i":11,"j":32,"v":1},{"i":12,"j":32,"v":5},{"i":13,"j":32,"v":11},{"i":14,"j":32,"v":0},{"i":15,"j":32,"v":18},{"i":16,"j":32,"v":6},{"i":17,"j":32,"v":3},{"i":18,"j":32,"v":5},{"i":19,"j":32,"v":19},{"i":20,"j":32,"v":6},{"i":21,"j":32,"v":22},{"i":22,"j":32,"v":9},{"i":23,"j":32,"v":4},{"i":24,"j":32,"v":3},{"i":25,"j":32,"v":22},{"i":26,"j":32,"v":13},{"i":27,"j":32,"v":22},{"i":28,"j":32,"v":15},{"i":29,"j":32,"v":9},{"i":30,"j":32,"v":4},{"i":31,"j":32,"v":22},{"i":32,"j":32,"v":13},{"i":33,"j":32,"v":2},{"i":34,"j":32,"v":1},{"i":35,"j":32,"v":16},{"i":36,"j":32,"v":9},{"i":37,"j":32,"v":3},{"i":38,"j":32,"v":1},{"i":39,"j":32,"v":13},{"i":40,"j":32,"v":7},
{"i":0,"j":33,"v":0},{"i":1,"j":33,"v":0},{"i":2,"j":33,"v":0},{"i":3,"j":33,"v":0},{"i":4,"j":33,"v":0},{"i":5,"j":33,"v":0},{"i":6,"j":33,"v":0},{"i":7,"j":33,"v":0},{"i":8,"j":33,"v":0},{"i":9,"j":33,"v":0},{"i":10,"j":33,"v":0},{"i":11,"j":33,"v":2},{"i":12,"j":33,"v":2},{"i":13,"j":33,"v":2},{"i":14,"j":33,"v":4},{"i":15,"j":33,"v":3},{"i":16,"j":33,"v":2},{"i":17,"j":33,"v":3},{"i":18,"j":33,"v":6},{"i":19,"j":33,"v":0},{"i":20,"j":33,"v":9},{"i":21,"j":33,"v":7},{"i":22,"j":33,"v":3},{"i":23,"j":33,"v":8},{"i":24,"j":33,"v":18},{"i":25,"j":33,"v":0},{"i":26,"j":33,"v":11},{"i":27,"j":33,"v":8},{"i":28,"j":33,"v":14},{"i":29,"j":33,"v":6},{"i":30,"j":33,"v":18},{"i":31,"j":33,"v":1},{"i":32,"j":33,"v":2},{"i":33,"j":33,"v":5},{"i":34,"j":33,"v":14},{"i":35,"j":33,"v":3},{"i":36,"j":33,"v":3},{"i":37,"j":33,"v":3},{"i":38,"j":33,"v":7},{"i":39,"j":33,"v":2},{"i":40,"j":33,"v":4},
{"i":0,"j":34,"v":0},{"i":1,"j":34,"v":0},{"i":2,"j":34,"v":0},{"i":3,"j":34,"v":0},{"i":4,"j":34,"v":0},{"i":5,"j":34,"v":0},{"i":6,"j":34,"v":0},{"i":7,"j":34,"v":0},{"i":8,"j":34,"v":0},{"i":9,"j":34,"v":1},{"i":10,"j":34,"v":0},{"i":11,"j":34,"v":7},{"i":12,"j":34,"v":4},{"i":13,"j":34,"v":7},{"i":14,"j":34,"v":7},{"i":15,"j":34,"v":4},{"i":16,"j":34,"v":5},{"i":17,"j":34,"v":14},{"i":18,"j":34,"v":0},{"i":19,"j":34,"v":10},{"i":20,"j":34,"v":0},{"i":21,"j":34,"v":9},{"i":22,"j":34,"v":2},{"i":23,"j":34,"v":19},{"i":24,"j":34,"v":7},{"i":25,"j":34,"v":8},{"i":26,"j":34,"v":6},{"i":27,"j":34,"v":14},{"i":28,"j":34,"v":7},{"i":29,"j":34,"v":18},{"i":30,"j":34,"v":11},{"i":31,"j":34,"v":3},{"i":32,"j":34,"v":1},{"i":33,"j":34,"v":13},{"i":34,"j":34,"v":9},{"i":35,"j":34,"v":2},{"i":36,"j":34,"v":1},{"i":37,"j":34,"v":8},{"i":38,"j":34,"v":5},{"i":39,"j":34,"v":3},{"i":40,"j":34,"v":1},
{"i":0,"j":35,"v":0},{"i":1,"j":35,"v":0},{"i":2,"j":35,"v":0},{"i":3,"j":35,"v":0},{"i":4,"j":35,"v":0},{"i":5,"j":35,"v":0},{"i":6,"j":35,"v":0},{"i":7,"j":35,"v":0},{"i":8,"j":35,"v":0},{"i":9,"j":35,"v":1},{"i":10,"j":35,"v":1},{"i":11,"j":35,"v":1},{"i":12,"j":35,"v":2},{"i":13,"j":35,"v":1},{"i":14,"j":35,"v":1},{"i":15,"j":35,"v":0},{"i":16,"j":35,"v":1},{"i":17,"j":35,"v":3},{"i":18,"j":35,"v":3},{"i":19,"j":35,"v":5},{"i":20,"j":35,"v":4},{"i":21,"j":35,"v":3},{"i":22,"j":35,"v":10},{"i":23,"j":35,"v":4},{"i":24,"j":35,"v":2},{"i":25,"j":35,"v":7},{"i":26,"j":35,"v":12},{"i":27,"j":35,"v":1},{"i":28,"j":35,"v":13},{"i":29,"j":35,"v":7},{"i":30,"j":35,"v":10},{"i":31,"j":35,"v":5},{"i":32,"j":35,"v":17},{"i":33,"j":35,"v":3},{"i":34,"j":35,"v":3},{"i":35,"j":35,"v":6},{"i":36,"j":35,"v":17},{"i":37,"j":35,"v":0},{"i":38,"j":35,"v":0},{"i":39,"j":35,"v":5},{"i":40,"j":35,"v":15},
{"i":0,"j":36,"v":0},{"i":1,"j":36,"v":0},{"i":2,"j":36,"v":0},{"i":3,"j":36,"v":0},{"i":4,"j":36,"v":0},{"i":5,"j":36,"v":0},{"i":6,"j":36,"v":0},{"i":7,"j":36,"v":0},{"i":8,"j":36,"v":0},{"i":9,"j":36,"v":3},{"i":10,"j":36,"v":3},{"i":11,"j":36,"v":3},{"i":12,"j":36,"v":4},{"i":13,"j":36,"v":3},{"i":14,"j":36,"v":2},{"i":15,"j":36,"v":8},{"i":16,"j":36,"v":1},{"i":17,"j":36,"v":5},{"i":18,"j":36,"v":4},{"i":19,"j":36,"v":9},{"i":20,"j":36,"v":5},{"i":21,"j":36,"v":16},{"i":22,"j":36,"v":2},{"i":23,"j":36,"v":0},{"i":24,"j":36,"v":0},{"i":25,"j":36,"v":16},{"i":26,"j":36,"v":6},{"i":27,"j":36,"v":12},{"i":28,"j":36,"v":6},{"i":29,"j":36,"v":11},{"i":30,"j":36,"v":5},{"i":31,"j":36,"v":16},{"i":32,"j":36,"v":9},{"i":33,"j":36,"v":3},{"i":34,"j":36,"v":1},{"i":35,"j":36,"v":15},{"i":36,"j":36,"v":9},{"i":37,"j":36,"v":0},{"i":38,"j":36,"v":0},{"i":39,"j":36,"v":15},{"i":40,"j":36,"v":10},
{"i":0,"j":37,"v":0},{"i":1,"j":37,"v":0},{"i":2,"j":37,"v":0},{"i":3,"j":37,"v":0},{"i":4,"j":37,"v":0},{"i":5,"j":37,"v":0},{"i":6,"j":37,"v":0},{"i":7,"j":37,"v":0},{"i":8,"j":37,"v":0},{"i":9,"j":37,"v":0},{"i":10,"j":37,"v":0},{"i":11,"j":37,"v":1},{"i":12,"j":37,"v":0},{"i":13,"j":37,"v":1},{"i":14,"j":37,"v":1},{"i":15,"j":37,"v":1},{"i":16,"j":37,"v":1},{"i":17,"j":37,"v":1},{"i":18,"j":37,"v":1},{"i":19,"j":37,"v":0},{"i":20,"j":37,"v":3},{"i":21,"j":37,"v":3},{"i":22,"j":37,"v":0},{"i":23,"j":37,"v":3},{"i":24,"j":37,"v":7},{"i":25,"j":37,"v":1},{"i":26,"j":37,"v":3},{"i":27,"j":37,"v":3},{"i":28,"j":37,"v":6},{"i":29,"j":37,"v":1},{"i":30,"j":37,"v":7},{"i":31,"j":37,"v":1},{"i":32,"j":37,"v":2},{"i":33,"j":37,"v":2},{"i":34,"j":37,"v":7},{"i":35,"j":37,"v":0},{"i":36,"j":37,"v":0},{"i":37,"j":37,"v":1},{"i":38,"j":37,"v":3},{"i":39,"j":37,"v":1},{"i":40,"j":37,"v":1},
{"i":0,"j":38,"v":0},{"i":1,"j":38,"v":0},{"i":2,"j":38,"v":0},{"i":3,"j":38,"v":0},{"i":4,"j":38,"v":0},{"i":5,"j":38,"v":0},{"i":6,"j":38,"v":0},{"i":7,"j":38,"v":0},{"i":8,"j":38,"v":0},{"i":9,"j":38,"v":0},{"i":10,"j":38,"v":0},{"i":11,"j":38,"v":3},{"i":12,"j":38,"v":1},{"i":13,"j":38,"v":4},{"i":14,"j":38,"v":3},{"i":15,"j":38,"v":0},{"i":16,"j":38,"v":2},{"i":17,"j":38,"v":7},{"i":18,"j":38,"v":0},{"i":19,"j":38,"v":5},{"i":20,"j":38,"v":1},{"i":21,"j":38,"v":4},{"i":22,"j":38,"v":1},{"i":23,"j":38,"v":9},{"i":24,"j":38,"v":1},{"i":25,"j":38,"v":1},{"i":26,"j":38,"v":1},{"i":27,"j":38,"v":7},{"i":28,"j":38,"v":2},{"i":29,"j":38,"v":7},{"i":30,"j":38,"v":4},{"i":31,"j":38,"v":3},{"i":32,"j":38,"v":1},{"i":33,"j":38,"v":6},{"i":34,"j":38,"v":4},{"i":35,"j":38,"v":0},{"i":36,"j":38,"v":0},{"i":37,"j":38,"v":3},{"i":38,"j":38,"v":3},{"i":39,"j":38,"v":1},{"i":40,"j":38,"v":0},
{"i":0,"j":39,"v":0},{"i":1,"j":39,"v":0},{"i":2,"j":39,"v":0},{"i":3,"j":39,"v":0},{"i":4,"j":39,"v":0},{"i":5,"j":39,"v":0},{"i":6,"j":39,"v":0},{"i":7,"j":39,"v":0},{"i":8,"j":39,"v":0},{"i":9,"j":39,"v":0},{"i":10,"j":39,"v":0},{"i":11,"j":39,"v":1},{"i":12,"j":39,"v":1},{"i":13,"j":39,"v":1},{"i":14,"j":39,"v":2},{"i":15,"j":39,"v":0},{"i":16,"j":39,"v":0},{"i":17,"j":39,"v":2},{"i":18,"j":39,"v":2},{"i":19,"j":39,"v":3},{"i":20,"j":39,"v":0},{"i":21,"j":39,"v":2},{"i":22,"j":39,"v":5},{"i":23,"j":39,"v":3},{"i":24,"j":39,"v":2},{"i":25,"j":39,"v":6},{"i":26,"j":39,"v":7},{"i":27,"j":39,"v":0},{"i":28,"j":39,"v":8},{"i":29,"j":39,"v":6},{"i":30,"j":39,"v":6},{"i":31,"j":39,"v":3},{"i":32,"j":39,"v":12},{"i":33,"j":39,"v":4},{"i":34,"j":39,"v":3},{"i":35,"j":39,"v":4},{"i":36,"j":39,"v":14},{"i":37,"j":39,"v":1},{"i":38,"j":39,"v":1},{"i":39,"j":39,"v":5},{"i":40,"j":39,"v":14},
{"i":0,"j":40,"v":0},{"i":1,"j":40,"v":0},{"i":2,"j":40,"v":0},{"i":3,"j":40,"v":0},{"i":4,"j":40,"v":0},{"i":5,"j":40,"v":0},{"i":6,"j":40,"v":0},{"i":7,"j":40,"v":0},{"i":8,"j":40,"v":0},{"i":9,"j":40,"v":1},{"i":10,"j":40,"v":1},{"i":11,"j":40,"v":2},{"i":12,"j":40,"v":2},{"i":13,"j":40,"v":0},{"i":14,"j":40,"v":4},{"i":15,"j":40,"v":4},{"i":16,"j":40,"v":0},{"i":17,"j":40,"v":6},{"i":18,"j":40,"v":3},{"i":19,"j":40,"v":3},{"i":20,"j":40,"v":3},{"i":21,"j":40,"v":11},{"i":22,"j":40,"v":0},{"i":23,"j":40,"v":2},{"i":24,"j":40,"v":0},{"i":25,"j":40,"v":10},{"i":26,"j":40,"v":2},{"i":27,"j":40,"v":9},{"i":28,"j":40,"v":3},{"i":29,"j":40,"v":8},{"i":30,"j":40,"v":2},{"i":31,"j":40,"v":12},{"i":32,"j":40,"v":7},{"i":33,"j":40,"v":3},{"i":34,"j":40,"v":0},{"i":35,"j":40,"v":12},{"i":36,"j":40,"v":8},{"i":37,"j":40,"v":0},{"i":38,"j":40,"v":0},{"i":39,"j":40,"v":14},{"i":40,"j":40,"v":10}
]},"transform":[{"calculate":"datum.i+1","as":"i2"},{"calculate":"datum.j+1","as":"j2"}],"mark":{"type":"rect","strokeWidth":0.7},"encoding":{"x":{"field":"i","type":"quantitative","scale":{"domain":[0,41],"nice":false,"zero":false},"axis":{"values":[0.487,16.02,24.17,32.08,39.98],"labelExpr":"round(datum.value)","labelFontSize":45.5,"labelFont":"DejaVu Sans","labelColor":"black","labelPadding":20,"labelFlush":false,"ticks":false,"domain":false,"grid":false,"title":"(E, i)","titleFontSize":46,"titleFontWeight":"normal","titleFontStyle":"italic","titleColor":"black","titleFont":"DejaVu Sans","titleX":506,"titleY":66}},"x2":{"field":"i2"},"y":{"field":"j","type":"quantitative","scale":{"domain":[0,41],"reverse":true,"nice":false,"zero":false},"axis":{"values":[0.55,16.32,24.12,32.16,40.28],"labelExpr":"round(datum.value-0.1)","labelFontSize":45.5,"labelFont":"DejaVu Sans","labelColor":"black","labelPadding":28,"labelFlush":false,"ticks":false,"domain":false,"grid":false,"title":"(E', i')","titleFontSize":46,"titleFontWeight":"normal","titleFontStyle":"italic","titleColor":"black","titleFont":"DejaVu Sans","titleX":-94,"titleY":504}},"y2":{"field":"j2"},"color":{"field":"v","type":"quantitative","scale":{"interpolate":"rgb","domain":[0,3,5,7,10,15,20,25,30,35,40,45,50,55,60,65,70,75,80,90,100],"range":["#000000","#0f0718","#1c0a28","#290e38","#3b1650","#5a2078","#722a76","#8c2f68","#a8365a","#c2404a","#d85235","#e8631e","#f67010","#fd7e0e","#fe9a18","#ffaa20","#feb93a","#ffc44c","#ffd466","#fee28a","#fff6dc"]},"legend":null},"stroke":{"field":"v","type":"quantitative","scale":{"interpolate":"rgb","domain":[0,3,5,7,10,15,20,25,30,35,40,45,50,55,60,65,70,75,80,90,100],"range":["#000000","#0f0718","#1c0a28","#290e38","#3b1650","#5a2078","#722a76","#8c2f68","#a8365a","#c2404a","#d85235","#e8631e","#f67010","#fd7e0e","#fe9a18","#ffaa20","#feb93a","#ffc44c","#ffd466","#fee28a","#fff6dc"]},"legend":null}}},{"data":{"values":[{"at":1},{"at":3},{"at":5},{"at":7},{"at":9},{"at":11},{"at":13},{"at":15},{"at":17},{"at":19},{"at":21},{"at":23},{"at":25},{"at":27},{"at":29},{"at":31},{"at":33},{"at":35},{"at":37},{"at":39},{"at":41}]},"mark":{"type":"rule","color":"#3395c8","strokeWidth":2},"encoding":{"x":{"field":"at","type":"quantitative","scale":{"domain":[0,41],"nice":false,"zero":false},"axis":null}}},{"data":{"values":[{"at":1},{"at":3},{"at":5},{"at":7},{"at":9},{"at":11},{"at":13},{"at":15},{"at":17},{"at":19},{"at":21},{"at":23},{"at":25},{"at":27},{"at":29},{"at":31},{"at":33},{"at":35},{"at":37},{"at":39},{"at":41}]},"mark":{"type":"rule","color":"#3395c8","strokeWidth":2},"encoding":{"y":{"field":"at","type":"quantitative","scale":{"domain":[0,41],"reverse":true,"nice":false,"zero":false},"axis":null}}},{"data":{"values":[{"t":"→","x":6.93,"y":42.75},{"t":"→","x":11.92,"y":42.75},{"t":"↓","x":-1.58,"y":6.17},{"t":"↓","x":-1.58,"y":10.64}]},"mark":{"type":"text","fontSize":56,"font":"DejaVu Sans","color":"black"},"encoding":{"x":{"field":"x","type":"quantitative","scale":{"domain":[0,41],"nice":false,"zero":false},"axis":null},"y":{"field":"y","type":"quantitative","scale":{"domain":[0,41],"reverse":true,"nice":false,"zero":false},"axis":null},"text":{"field":"t"}}},{"data":{"values":[{"t":"E","x":9.41,"y":42.67},{"t":"E'","x":-2.0,"y":8.28}]},"mark":{"type":"text","fontSize":46,"fontStyle":"italic","font":"DejaVu Sans","color":"black"},"encoding":{"x":{"field":"x","type":"quantitative","scale":{"domain":[0,41],"nice":false,"zero":false},"axis":null},"y":{"field":"y","type":"quantitative","scale":{"domain":[0,41],"reverse":true,"nice":false,"zero":false},"axis":null},"text":{"field":"t"}}},{"data":{"values":[{"level":0,"upper":1},{"level":1,"upper":2},{"level":2,"upper":3},{"level":3,"upper":4},{"level":4,"upper":5},{"level":5,"upper":6},{"level":6,"upper":7},{"level":7,"upper":8},{"level":8,"upper":9},{"level":9,"upper":10}]},"mark":{"type":"rect"},"encoding":{"x":{"datum":0,"type":"quantitative","scale":{"domain":[0,1],"range":[1026,1071],"nice":false,"zero":false},"axis":null},"x2":{"datum":1},"y":{"field":"level","type":"quantitative","scale":{"domain":[0,23.7],"range":[0,1010],"nice":false,"zero":false},"axis":{"orient":"right","offset":60,"values":[0.58,2.52,4.52,6.52,8.52],"labelExpr":"datum.value<1?'0.00':datum.value<3?'0.12':datum.value<5?'0.50':datum.value<7?'1.77':'6.00'","labelFontSize":37,"labelFont":"DejaVu Sans","labelColor":"black","labelPadding":10,"labelFlush":false,"ticks":false,"domain":false,"grid":false,"title":"[MeV]","titleFontSize":36,"titleFontWeight":"normal","titleColor":"black","titleFont":"DejaVu Sans","titleAngle":270,"titleX":142,"titleY":234}},"y2":{"field":"upper"},"color":{"field":"level","type":"ordinal","scale":{"range":["#000000","#3b1650","#732a75","#b03a50","#de582e","#fb700d","#fd9718","#feb93a","#ffd666","#fee28a"]},"legend":null}}},{"data":{"values":[{"x":48.13,"y":21.72}]},"mark":{"type":"point","filled":true,"opacity":1,"fill":"#feebb8","stroke":null,"shape":"M-1 0A1 0.2862 0 1 1 1 0A1 0.2862 0 1 1 -1 0Z","size":1690000},"encoding":{"x":{"field":"x","type":"quantitative","scale":{"domain":[0,41],"nice":false,"zero":false},"axis":null},"y":{"field":"y","type":"quantitative","scale":{"domain":[0,41],"reverse":true,"nice":false,"zero":false},"axis":null}}},{"data":{"values":[{"t":"pre-diagonalization","x":31.14,"y":19.1},{"t":"momentum space","x":29.28,"y":21.86},{"t":"HO basis","x":38.24,"y":24.61}]},"mark":{"type":"text","fontSize":55,"align":"left","font":"DejaVu Sans","color":"black"},"encoding":{"x":{"field":"x","type":"quantitative","scale":{"domain":[0,41],"nice":false,"zero":false},"axis":null},"y":{"field":"y","type":"quantitative","scale":{"domain":[0,41],"reverse":true,"nice":false,"zero":false},"axis":null},"text":{"field":"t"}}}]}
